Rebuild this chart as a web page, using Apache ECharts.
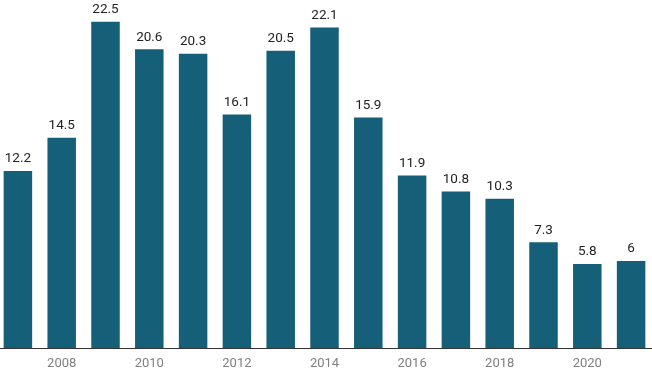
<!DOCTYPE html>
<html><head><meta charset="utf-8">
<script src="https://cdn.jsdelivr.net/npm/echarts@6/dist/echarts.min.js"></script>
<style>html,body{margin:0;padding:0;background:#fff}#c{width:652px;height:370px}</style>
</head><body><div id="c"></div>
<script>
const years = ['2007','2008','2009','2010','2011','2012','2013','2014','2015','2016','2017','2018','2019','2020','2021'];
const values = [12.2, 14.5, 22.5, 20.6, 20.3, 16.1, 20.5, 22.1, 15.9, 11.9, 10.8, 10.3, 7.3, 5.8, 6];
const chart = echarts.init(document.getElementById('c'), null, {renderer:'canvas'});
chart.setOption({
  animation:false,
  grid:{left:-4, right:-1, top:0, bottom:22, containLabel:false, outerBoundsMode:'none'},
  xAxis:{type:'category', data:years,
    axisLine:{lineStyle:{color:'#333', width:1}},
    axisTick:{show:false},
    axisLabel:{interval:function(i){return i%2===1;}, color:'#808080', fontSize:13, fontFamily:'Roboto', margin:9}},
  yAxis:{type:'value', min:0, max:24, show:false},
  series:[{type:'bar', data:values, barWidth:28.5,
    itemStyle:{color:'#155f78'},
    label:{show:true, position:'top', color:'#222', fontSize:13.5, fontFamily:'Roboto', distance:5}}]
});
</script></body></html>
